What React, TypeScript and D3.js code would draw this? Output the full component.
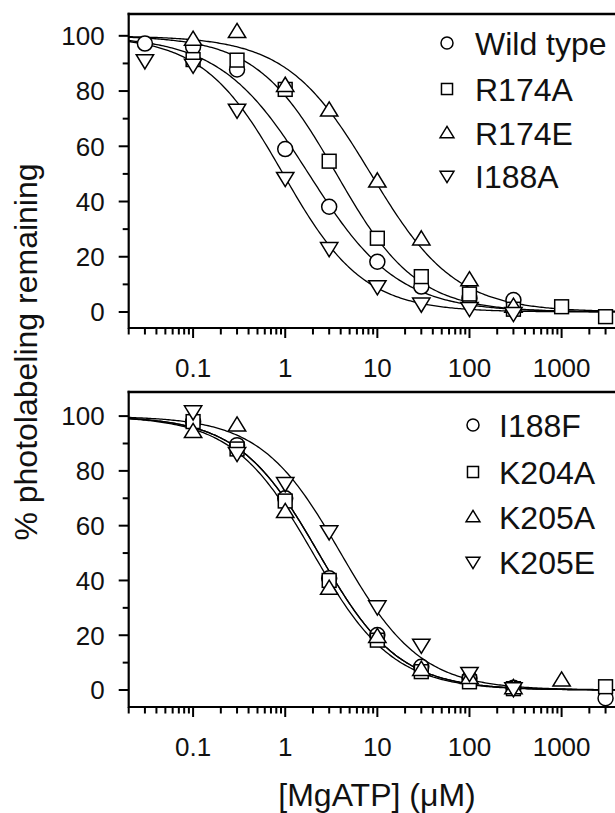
import React from "react";
import * as d3 from "d3";

// ---------- DATA ----------
const topSeries = ["Wild type", "R174A", "R174E", "I188A"];
const bottomSeries = ["I188F", "K204A", "K205A", "K205E"];
const shapes = ["circle", "square", "triangle", "nabla"];

// top panel points [MgATP µM, % remaining]
const wildTypeX = [0.03, 0.1, 0.3, 1, 3, 10, 30, 100, 300];
const wildTypeY = [97.2, 96, 87.8, 59, 38.1, 18.2, 9.2, 5.0, 4.3];
const r174aX = [0.1, 0.3, 1, 3, 10, 30, 100, 300, 1000, 3000];
const r174aY = [91.4, 91.2, 80.6, 54.6, 26.7, 12.8, 6.5, 1.0, 1.9, -1.7];
const r174eX = [0.1, 0.3, 1, 3, 10, 30, 100, 300];
const r174eY = [98.7, 101.5, 82, 73.1, 47.4, 26.4, 11.6, 2.0];
const i188aX = [0.03, 0.1, 0.3, 1, 3, 10, 30, 100, 300];
const i188aY = [91, 89.4, 73.1, 48.4, 23, 9.2, 2.9, 1.3, -0.5];

// bottom panel points
const i188fX = [0.1, 0.3, 1, 3, 10, 30, 100, 300, 3000];
const i188fY = [97.9, 89.4, 70, 40.8, 20.1, 8.5, 4.3, 0.8, -3];
const k204aX = [0.1, 0.3, 1, 3, 10, 30, 100, 300, 3000];
const k204aY = [98, 88, 69, 40, 18.2, 6.7, 3.0, 0.5, 1.2];
const k205aX = [0.1, 0.3, 1, 3, 10, 30, 100, 300, 1000];
const k205aY = [94.3, 96.7, 65.1, 37.1, 19.5, 7.5, 4.5, 0.8, 3.6];
const k205eX = [0.1, 0.3, 1, 3, 10, 30, 100, 300];
const k205eY = [101.6, 86.4, 75.4, 57.8, 30.4, 16.4, 6.1, 0.5];

// fitted Hill curve parameters (IC50 µM, Hill slope)
const topIC50 = [1.8, 3.6, 8.5, 0.95];
const topHill = [0.9, 1.0, 0.95, 1.0];
const bottomIC50 = [2.3, 2.3, 2.0, 4.0];
const bottomHill = [1.0, 1.0, 1.0, 1.0];

const yTickValues = [0, 20, 40, 60, 80, 100];
const yMinorValues = [10, 30, 50, 70, 90];
const xTickLabels = ["0.1", "1", "10", "100", "1000"];
const xLabel = "[MgATP] (\u03bcM)";
const yLabel = "% photolabeling remaining";

// ---------- LAYOUT ----------
const W = 615;
const H = 813;
const FONT = "'Liberation Sans', Arial, Helvetica, sans-serif";

const xScale = d3.scaleLog().domain([0.02, 5000]).range([128.7, 626]);

const panels = [
  {
    names: topSeries,
    xs: [wildTypeX, r174aX, r174eX, i188aX],
    ys: [wildTypeY, r174aY, r174eY, i188aY],
    ic50: topIC50,
    hill: topHill,
    y: d3.scaleLinear().domain([-5.8, 107.9]).range([328, 14]),
    legendX: 447,
    legendTextX: 475,
    legendY: [43, 89, 133, 176],
  },
  {
    names: bottomSeries,
    xs: [i188fX, k204aX, k205aX, k205eX],
    ys: [i188fY, k204aY, k205aY, k205eY],
    ic50: bottomIC50,
    hill: bottomHill,
    y: d3.scaleLinear().domain([-6.2, 108.8]).range([707, 392]),
    legendX: 473,
    legendTextX: 499,
    legendY: [425, 472, 517, 562],
  },
];

function Marker({ shape, cx, cy, s }: { shape: string; cx: number; cy: number; s: number }) {
  const common = { fill: "white", stroke: "black", strokeWidth: 1.5 };
  if (shape === "circle") return <circle cx={cx} cy={cy} r={s} {...common} />;
  if (shape === "square")
    return <rect x={cx - s * 0.92} y={cy - s * 0.92} width={s * 1.84} height={s * 1.84} {...common} />;
  if (shape === "triangle") {
    const h = s * 1.05;
    return (
      <path
        d={`M${cx},${cy - h * 1.05} L${cx + h * 1.1},${cy + h * 0.75} L${cx - h * 1.1},${cy + h * 0.75} Z`}
        {...common}
      />
    );
  }
  const h = s * 1.05;
  return (
    <path
      d={`M${cx},${cy + h * 1.05} L${cx + h * 1.1},${cy - h * 0.75} L${cx - h * 1.1},${cy - h * 0.75} Z`}
      {...common}
    />
  );
}

function Panel({ p, idx }: { p: (typeof panels)[number]; idx: number }) {
  const y = p.y;
  const [y0, y1] = y.range();
  const x0 = xScale.range()[0];
  const ticks = xScale.ticks();
  const curveX = d3.range(0, 301).map((i) => Math.pow(10, Math.log10(0.02) + (i / 300) * Math.log10(5000 / 0.02)));
  const line = d3
    .line<number[]>()
    .x((d) => xScale(d[0]))
    .y((d) => y(d[1]))
    .curve(d3.curveLinear);

  return (
    <g>
      {/* fitted curves */}
      {p.ic50.map((ic, i) => (
        <path
          key={"c" + i}
          d={line(curveX.map((c) => [c, 100 / (1 + Math.pow(c / ic, p.hill[i]))])) || ""}
          fill="none"
          stroke="black"
          strokeWidth={1.3}
        />
      ))}
      {/* points */}
      {p.xs.map((xs, si) =>
        xs.map((c, j) => (
          <Marker key={`m${si}-${j}`} shape={shapes[si]} cx={xScale(c)} cy={y(p.ys[si][j])} s={7.5} />
        ))
      )}
      {/* axes */}
      <line x1={x0} x2={W} y1={y0} y2={y0} stroke="black" strokeWidth={2.2} />
      <line x1={x0} x2={x0} y1={y0 + 1.1} y2={y1 - 1.2} stroke="black" strokeWidth={2.2} />
      <line x1={x0 - 1.1} x2={W} y1={y1} y2={y1} stroke="black" strokeWidth={2.4} />
      {yTickValues.map((v) => (
        <g key={"yt" + v}>
          <line x1={x0 - 10} x2={x0} y1={y(v)} y2={y(v)} stroke="black" strokeWidth={2} />
          <text x={x0 - 24} y={y(v) + 9.3} textAnchor="end" fontSize={26} fontFamily={FONT} fill="#111">
            {v}
          </text>
        </g>
      ))}
      {yMinorValues.map((v) => (
        <line key={"ym" + v} x1={x0 - 6} x2={x0} y1={y(v)} y2={y(v)} stroke="black" strokeWidth={2} />
      ))}
      {ticks.map((t, i) => {
        const mant = t / Math.pow(10, Math.floor(Math.log10(t) + 1e-9));
        const major = Math.abs(mant - 1) < 1e-6;
        return (
          <line
            key={"xt" + i}
            x1={xScale(t)}
            x2={xScale(t)}
            y1={y0}
            y2={y0 + (major ? 10 : 6.5)}
            stroke="black"
            strokeWidth={2}
          />
        );
      })}
      {xTickLabels.map((lab) => (
        <text
          key={"xl" + lab}
          x={xScale(+lab)}
          y={y0 + 49}
          textAnchor="middle"
          fontSize={26}
          fontFamily={FONT}
          fill="#111"
        >
          {lab}
        </text>
      ))}
      {/* legend */}
      {p.names.map((n, i) => (
        <g key={"lg" + i}>
          <Marker shape={shapes[i]} cx={p.legendX} cy={p.legendY[i]} s={6} />
          <text x={p.legendTextX} y={p.legendY[i] + 11.5} fontSize={32} fontFamily={FONT} fill="#111">
            {n}
          </text>
        </g>
      ))}
    </g>
  );
}

export default function App() {
  return (
    <svg
      width={W}
      height={H}
      viewBox={`0 0 ${W} ${H}`}
      style={{ position: "absolute", left: 0, top: 0, background: "white" }}
    >
      <rect x={0} y={0} width={W} height={H} fill="white" />
      {panels.map((p, i) => (
        <Panel key={i} p={p} idx={i} />
      ))}
      <text
        transform="translate(37,352) rotate(-90)"
        textAnchor="middle"
        fontSize={32}
        fontFamily={FONT}
        fill="#111"
      >
        {yLabel}
      </text>
      <text x={377} y={806} textAnchor="middle" fontSize={32} fontFamily={FONT} fill="#111">
        {xLabel}
      </text>
    </svg>
  );
}
